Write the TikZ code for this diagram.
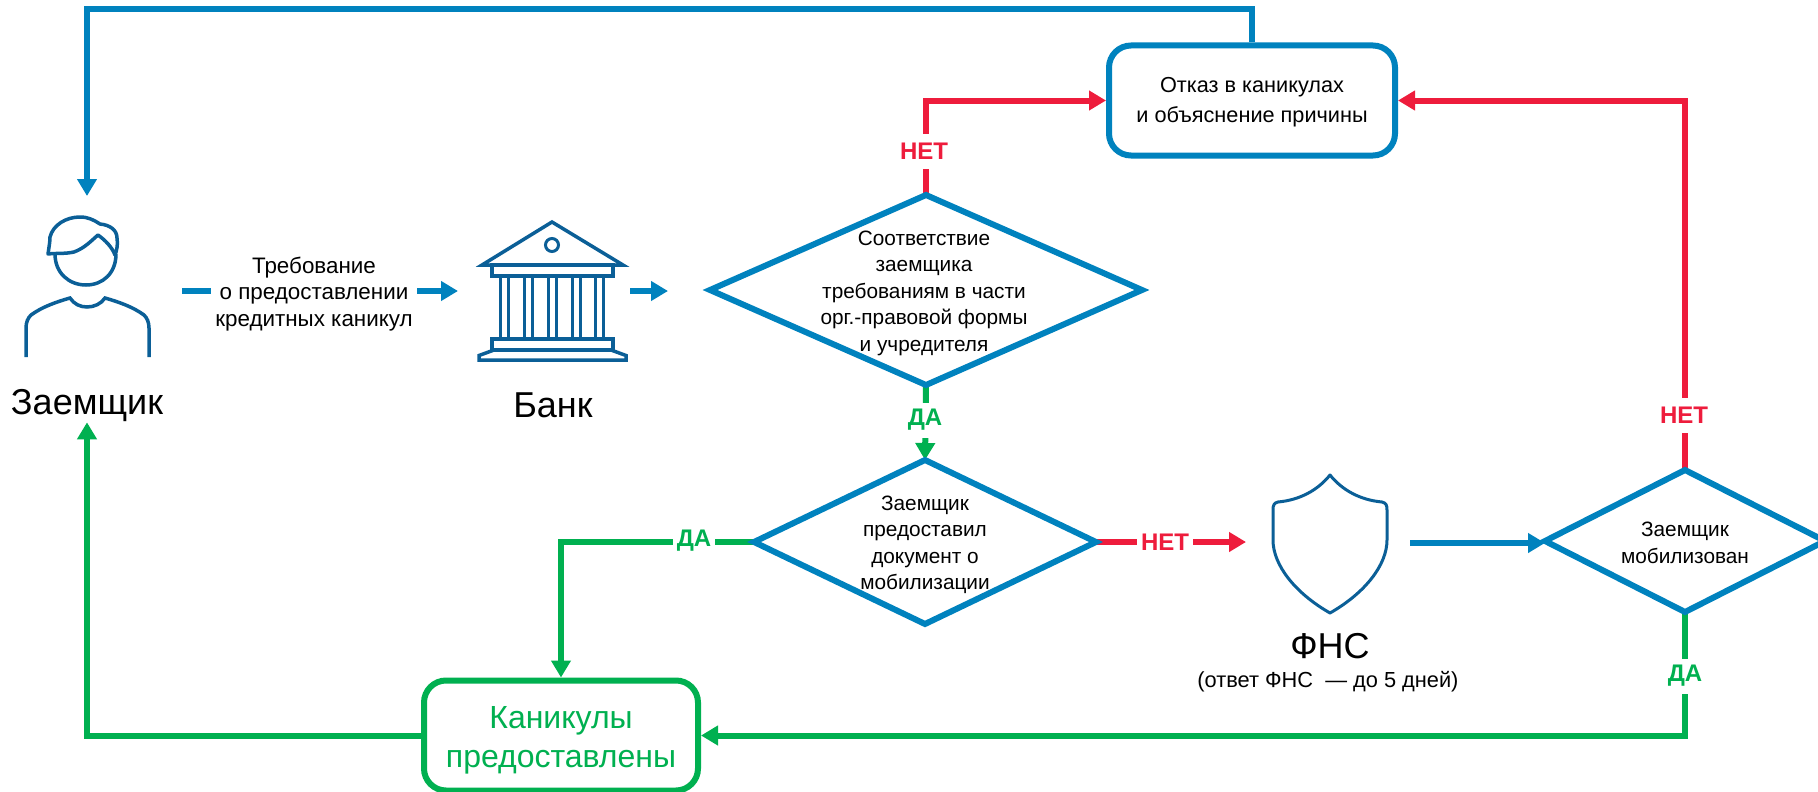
\documentclass[tikz,border=0pt]{standalone}
\usepackage{fontspec}
\setmainfont{Liberation Sans}
\usetikzlibrary{arrows.meta,shapes.geometric,calc}
\definecolor{cblue}{HTML}{0082BE}
\definecolor{cicon}{HTML}{0B5F97}
\definecolor{cgreen}{HTML}{00B050}
\definecolor{cred}{HTML}{EE1C3C}
\pgfdeclarelayer{bg}
\pgfsetlayers{bg,main}
\tikzset{
  x=1pt,y=-1pt,
  tip/.style={-{Triangle[length=17pt,width=19pt]}},
  conn/.style={line width=6pt},
  bl/.style={conn,cblue},
  gr/.style={conn,cgreen},
  rd/.style={conn,cred},
  dia/.style={diamond,draw=cblue,fill=white,line width=6pt,inner sep=0pt,outer sep=0pt},
  rbox/.style={rectangle,rounded corners=22pt,line width=6pt,fill=white,align=center},
  ghost/.style={rectangle,inner sep=0pt,outer sep=0pt},
  txt/.style={font=\fontsize{20.8}{26.5}\selectfont,align=center,inner sep=0pt},
  txtb/.style={font=\fontsize{22.4}{26.5}\selectfont,align=center,inner sep=0pt},
  big/.style={font=\fontsize{36}{40}\selectfont,inner sep=0pt},
  lab/.style={font=\fontsize{24}{26}\selectfont\bfseries,fill=white,inner xsep=4pt,inner ysep=0pt,minimum height=35pt},
  icon/.style={cicon,line width=3.5pt,line join=miter},
}
\begin{document}
\begin{tikzpicture}
\useasboundingbox (0,0) rectangle (1818,792);
% boxes
\node[rbox,draw=cblue,minimum width=286pt,minimum height=110pt] (refuse) at (1252,100.5) {};
\node[rbox,draw=cgreen,minimum width=274pt,minimum height=110pt] (granted) at (561,735.5) {};
\node[font=\fontsize{21.7}{29.5}\selectfont,align=center,inner sep=0pt] (refuset) at (1252,102) {Отказ в каникулах\\и объяснение причины};
\node[text=cgreen,font=\fontsize{32}{39}\selectfont,align=center,inner sep=0pt] (grantedt) at (561,740) {Каникулы\\предоставлены};
% diamonds
\node[dia,minimum width=432pt,minimum height=190pt] (d1) at (926,290) {};
\node[dia,minimum width=342pt,minimum height=164pt] (d2) at (925,542) {};
\node[dia,minimum width=280pt,minimum height=142pt] (d3) at (1685,541) {};
\node[txt] (d1t) at (924,293) {Соответствие\\заемщика\\требованиям в части\\орг.-правовой формы\\и учредителя};
\node[txt] (d2t) at (925,545) {Заемщик\\предоставил\\документ о\\мобилизации};
\node[txt] (d3t) at (1685,543) {Заемщик\\мобилизован};
% icon anchors
\node[ghost,minimum width=190pt,minimum height=190pt] (p) at (87,291) {};
\node[ghost,minimum width=172pt,minimum height=140pt] (b) at (544,291) {};
\node[ghost,minimum width=164pt,minimum height=140pt] (f) at (1328,543) {};
% labels
\node[big,minimum height=32pt] (zl) at (87,406) {Заемщик};
\node[big] (bl) at (553,405) {Банк};
\node[big] (fl) at (1330,646) {ФНС};
\node[font=\fontsize{21.8}{26.5}\selectfont,inner sep=0pt] (fs) at (1328,682) {(ответ ФНС\ \ — до 5 дней)};
\coordinate (tl) at (87,9);
% connectors
\begin{pgfonlayer}{bg}
\draw[bl,tip] (refuse.north) |- (tl) -- (p.north);
\draw[bl,tip] (p.east) -- (b.west);
\draw[bl,tip,shorten >=42pt] (b.east) -- (d1.west |- b.east);
\draw[bl,tip] (f.east) -- (d3.west |- f.east);
\draw[rd,tip] (d1.north) |- (refuse.west);
\draw[rd,tip] (d3.north) |- (refuse.east);
\draw[rd,tip] (d2.east) -- (f.west |- d2.east);
\draw[gr,tip] (d1.south) -- (d2.north);
\draw[gr,tip] (d2.west) -| (granted.north);
\draw[gr,tip] (d3.south) |- (granted.east);
\draw[gr,tip] (granted.west) -| (zl.south);
\end{pgfonlayer}
% on-line labels
\node[txtb,fill=white,inner xsep=4pt] (req) at (314,294) {Требование\\о предоставлении\\кредитных каникул};
\node[lab,text=cred] (n1) at (924,151) {НЕТ};
\node[lab,text=cred] (n2) at (1684,415) {НЕТ};
\node[lab,text=cred] (n3) at (1165,542) {НЕТ};
\node[lab,text=cgreen] (y1) at (925,420) {ДА};
\node[lab,text=cgreen] (y2) at (694,541) {ДА};
\node[lab,text=cgreen] (y3) at (1685,676) {ДА};
% person icon
\draw[icon,fill=white] (55,254) .. controls (55,273) and (69,285) .. (86,285) .. controls (103,285) and (116,273) .. (116,254);
\draw[icon,line join=round] (48,254) .. controls (49,247) and (50,242) .. (50,237) .. controls (53,225) and (66,217) .. (80,217) .. controls (88,217) and (94,220) .. (100,224) .. controls (110,225) and (117,230) .. (117,238) .. controls (118,244) and (117,250) .. (115,255) .. controls (112,247) and (105,240) .. (98,235) .. controls (92,240) and (85,248) .. (74,252) .. controls (65,254) and (56,253) .. (48,254) -- cycle;
\draw[icon] (26,357) -- (26,328) .. controls (26,322) and (28,318) .. (31,315) .. controls (42,307) and (56,302) .. (70,298) .. controls (74,304) and (80,307) .. (87,307) .. controls (94,307) and (101,304) .. (105,298) .. controls (119,302) and (133,307) .. (144,315) .. controls (147,318) and (149,322) .. (149,328) -- (149,357);
% bank icon
\draw[icon] (482,265) -- (552,222) -- (623,265) -- cycle;
\draw[cicon,line width=3pt] (552,245) circle [radius=6.5pt];
\draw[icon] (492,265) rectangle (613,276);
\foreach \c in {504.5,528.5,552.5,576.5,599.5}
  \draw[cicon,line width=3pt] (\c-4,276) rectangle (\c+4,339);
\draw[icon] (492,339) rectangle (613,350);
\draw[icon] (494,350) -- (479,355.5) -- (479,360) -- (626,360) -- (626,355.5) -- (611,350);
% shield icon
\draw[icon,line width=3pt,line join=round] (1330,475) .. controls (1342,490) and (1360,500) .. (1382,502) .. controls (1386,503) and (1387,505) .. (1387,510) -- (1387,540) .. controls (1387,565) and (1365,593) .. (1330,613) .. controls (1295,593) and (1273,565) .. (1273,540) -- (1273,510) .. controls (1273,505) and (1274,503) .. (1278,502) .. controls (1300,500) and (1318,490) .. (1330,475) -- cycle;
\end{tikzpicture}
\end{document}
